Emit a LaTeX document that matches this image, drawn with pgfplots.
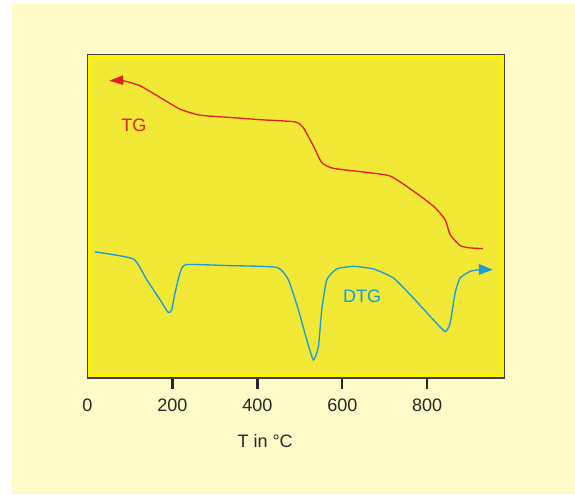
\documentclass[border=0pt]{standalone}
\usepackage{fontspec}
\setmainfont{Liberation Sans}
\usepackage{pgfplots}
\pgfplotsset{compat=1.18}
\usetikzlibrary{arrows.meta}

\definecolor{pagebg}{HTML}{FFFBC8}
\definecolor{bandyellow}{HTML}{FFF200}
\definecolor{plotyellow}{HTML}{F2E836}
\definecolor{tgred}{HTML}{E0221E}
\definecolor{dtgblue}{HTML}{1A9BDC}

\newcommand{\lblfont}{\fontsize{13.5}{16}\selectfont}

\begin{document}
\begin{tikzpicture}
% page background, pixel units (0.75pt), axis box south west corner at origin
\begin{scope}[x=0.75pt,y=0.75pt]
  \fill[white] (-87.5,-116) rectangle (487.5,378);
  \fill[pagebg] (-75.5,-116) rectangle (487.5,374);
\end{scope}
\begin{axis}[
  at={(0,0)}, anchor=south west,
  width=312.75pt, height=242.5pt, scale only axis,
  xmin=0, xmax=982, ymin=55.7, ymax=378, y dir=reverse,
  axis background/.style={fill=bandyellow},
  axis line style={draw=black!75, line width=1.1pt},
  xtick={200,400,600,800}, ytick=\empty,
  xtick pos=bottom, tick align=outside,
  major tick length=8pt,
  xtick style={draw=black!85, line width=1.8pt},
  extra x ticks={0},
  extra x tick style={major tick length=0pt, tick label style={yshift=-8pt}},
  /pgf/number format/assume math mode=true,
  xticklabel style={font=\lblfont, text=black!85, yshift=-4pt},
  xlabel={T in °C},
  xlabel style={at={(rel axis cs:0.426,0)}, anchor=center, yshift=-47.5pt,
    font=\lblfont, text=black!85},
  axis on top,
]
% bright yellow inner frame band
\fill[plotyellow] ([shift={(3.6pt,-4.3pt)}]axis cs:0,55.7)
  rectangle ([shift={(-3.6pt,4pt)}]axis cs:982,378);

% TG curve (y in image pixels)
\addplot[tgred, line width=1pt, smooth, tension=0.35,
  {Triangle[length=10.5pt,width=7pt]}-] coordinates {
  (51.3,81.7) (84,81.7) (123.5,86.7) (170.8,98.3) (217.9,110) (265,116)
  (335.7,118.3) (414,120.7) (488.8,122.7) (508,128.3) (532,146.7)
  (551.7,163.3) (579,169) (650,172.7) (712.7,176.7) (767.5,191.7)
  (814.6,206.7) (842,220) (854,235) (877.4,246) (901,248.3) (931,249)
};

% DTG curve
\addplot[dtgblue, line width=1pt, smooth, tension=0.3,
  -{Triangle[length=10.5pt,width=8pt]}] coordinates {
  (17.7,252.3) (107.9,259.3) (139.5,280) (170.8,300) (190.3,312.7)
  (198.3,310) (206.1,293.3) (217.9,273.3) (232,265) (335.7,266)
  (445.7,267.7) (473,280) (496.6,310) (516.4,340) (532,360) (543.7,346.7)
  (551.7,310) (563.5,280) (587,269.3) (626.1,266.7) (673.3,269.3)
  (720.4,278.3) (767.5,298.3) (814.6,320) (842.2,331.7) (854,323.3)
  (865.7,293.3) (877.4,278.3) (901,271.7) (924.6,270) (954.5,270)
};

\node[tgred, font=\lblfont] at (axis cs:109.4,126) {TG};
\node[dtgblue, font=\lblfont] at (axis cs:647,297) {DTG};
\end{axis}
\end{tikzpicture}
\end{document}
